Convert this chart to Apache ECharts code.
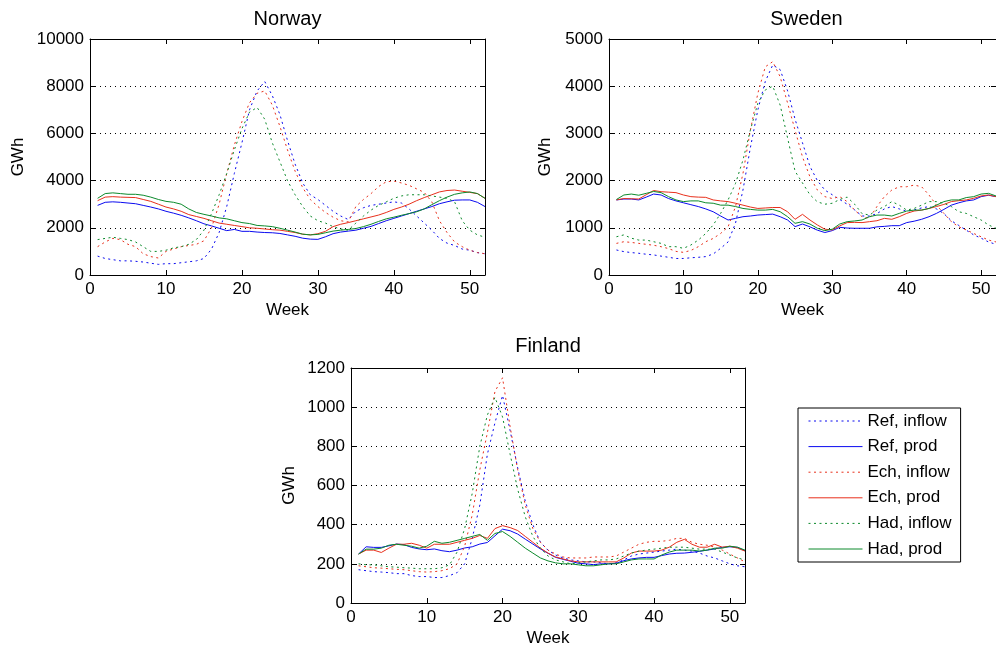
<!DOCTYPE html>
<html>
<head>
<meta charset="utf-8">
<title>Weekly inflow and production</title>
<script src="https://cdn.jsdelivr.net/npm/echarts@6/dist/echarts.min.js"></script>
<style>
  html, body { margin: 0; padding: 0; background: #fff; }
  #chart { width: 996px; height: 651px; }
</style>
</head>
<body>
<div id="chart"></div>
<script>
// Week numbers (x values shared by every curve)
const weeks = [1,2,3,4,5,6,7,8,9,10,11,12,13,14,15,16,17,18,19,20,21,22,23,24,25,26,
               27,28,29,30,31,32,33,34,35,36,37,38,39,40,41,42,43,44,45,46,47,48,49,50,51,52];

const seriesNames = ['Ref, inflow', 'Ref, prod', 'Ech, inflow', 'Ech, prod', 'Had, inflow', 'Had, prod'];
const countries = ['Norway', 'Sweden', 'Finland'];
const yMax = [10000, 5000, 1200];
const yStep = [2000, 1000, 200];

// Norway, GWh per week
const norwayRefInflow = [800,700,650,600,600,580,550,500,450,480, 480,520,560,600,700,1100,1800,2900,4300,5600,
  7000,7800,8200,7600,6800,5700,4700,3900,3400,3200, 2950,2700,2500,2350,2700,2850,2950,3000,3050,3100,
  3050,2800,2500,2200,1900,1550,1350,1250,1100,1050, 950,900];
const norwayRefProd = [2950,3080,3100,3080,3050,3020,2950,2880,2800,2700, 2620,2530,2420,2300,2170,2080,1980,1880,1930,1850,
  1850,1820,1800,1790,1760,1700,1640,1560,1520,1510, 1620,1750,1820,1860,1900,1980,2060,2180,2300,2400,
  2500,2600,2700,2800,2900,3020,3100,3170,3180,3180, 3080,2900];
const norwayEchInflow = [1200,1400,1550,1500,1300,1200,900,780,720,1000, 1100,1200,1250,1300,1450,2000,3000,4300,5500,6500,
  7300,7700,7800,7200,6300,5300,4400,3700,3200,2900, 2650,2450,2300,2250,2900,3200,3450,3750,3950,3980,
  3900,3800,3650,3500,3100,2300,1800,1400,1200,1050, 950,900];
const norwayEchProd = [3150,3300,3320,3300,3290,3280,3200,3120,3000,2880, 2800,2700,2560,2480,2400,2300,2200,2150,2100,2050,
  2000,1980,1950,1920,1900,1850,1800,1730,1700,1750, 1850,2050,2150,2220,2300,2380,2460,2540,2650,2780,
  2880,3000,3150,3280,3400,3520,3580,3600,3550,3500, 3450,3250];
const norwayHadInflow = [1500,1550,1600,1550,1500,1400,1200,1000,1000,1050, 1150,1200,1300,1500,1900,2600,3400,4300,5300,6200,
  6900,7100,6600,5600,4800,4000,3400,2900,2500,2300, 2200,2050,1950,1900,2200,2500,2750,2950,3100,3250,
  3350,3400,3400,3400,3350,3300,3250,3100,2300,1900, 1700,1600];
const norwayHadProd = [3250,3450,3480,3450,3420,3420,3380,3300,3200,3120, 3080,3000,2800,2650,2570,2500,2420,2380,2300,2220,
  2180,2100,2080,2050,1980,1900,1820,1730,1700,1720, 1790,1860,1900,1930,1970,2050,2150,2270,2380,2450,
  2530,2600,2680,2800,2980,3150,3300,3420,3480,3520, 3450,3250];

// Sweden, GWh per week
const swedenRefInflow = [530,495,475,460,440,425,400,375,350,350, 365,375,390,445,565,700,1100,1800,2700,3500,
  4100,4450,4350,3900,3300,2800,2300,2000,1800,1700, 1600,1500,1380,1250,1250,1300,1400,1450,1400,1350,
  1380,1420,1450,1400,1300,1150,1050,950,850,780, 700,650];
const swedenRefProd = [1590,1610,1610,1590,1650,1715,1695,1620,1570,1530, 1490,1450,1400,1340,1250,1165,1200,1235,1250,1270,
  1280,1290,1235,1165,1025,1080,1020,950,900,940, 1010,995,990,990,990,1020,1030,1045,1045,1110,
  1140,1180,1235,1305,1390,1480,1530,1570,1590,1660, 1690,1660];
const swedenEchInflow = [670,705,690,670,650,630,600,560,500,480, 520,600,705,775,880,1020,1450,2150,3070,3850,
  4410,4520,4200,3640,3070,2500,2080,1800,1660,1620, 1660,1555,1375,1235,1200,1450,1660,1800,1870,1870,
  1905,1870,1695,1480,1305,1130,1020,955,880,810, 740,700];
const swedenEchProd = [1590,1620,1615,1610,1700,1790,1765,1755,1745,1695, 1660,1650,1645,1590,1570,1555,1520,1480,1440,1410,
  1420,1430,1430,1340,1180,1285,1165,1060,970,955, 1040,1110,1115,1110,1130,1150,1200,1180,1235,1305,
  1355,1375,1410,1450,1495,1555,1575,1590,1625,1675, 1695,1660];
const swedenHadInflow = [810,850,780,740,740,705,670,600,600,565, 635,740,880,1060,1305,1590,1940,2435,3070,3640,
  3920,4000,3600,2900,2200,1950,1700,1550,1500,1520, 1600,1650,1500,1300,1270,1375,1450,1555,1480,1375,
  1410,1480,1555,1555,1520,1450,1340,1305,1235,1165, 1060,990];
const swedenHadProd = [1600,1695,1715,1690,1730,1770,1745,1660,1590,1555, 1570,1570,1530,1520,1480,1480,1450,1410,1390,1375,
  1375,1390,1340,1235,1095,1130,1080,990,940,970, 1080,1130,1145,1165,1235,1270,1270,1250,1305,1355,
  1375,1375,1410,1480,1555,1590,1590,1640,1660,1715, 1730,1675];

// Finland, GWh per week
const finlandRefInflow = [170,165,160,158,155,150,150,140,135,135, 130,130,140,155,200,330,500,760,920,1060,
  880,690,520,400,310,270,245,230,220,215, 210,210,205,200,205,220,240,250,255,260,
  265,270,275,270,265,255,240,230,215,200, 190,185];
const finlandRefProd = [250,287,284,284,292,301,298,284,276,272, 276,267,262,270,281,287,301,309,343,377,
  369,352,326,301,276,254,233,223,213,203, 200,196,200,200,203,216,225,230,233,233,
  242,250,254,255,259,264,270,276,284,287, 284,267];
const finlandEchInflow = [190,185,180,178,175,172,170,165,160,158, 160,165,175,200,290,450,680,870,1080,1150,
  900,680,500,380,310,270,250,235,230,230, 230,235,235,235,240,260,280,300,310,315,
  315,320,330,330,310,300,295,285,270,250, 230,210];
const finlandEchProd = [250,270,270,258,280,300,300,305,295,280, 300,300,300,310,320,330,345,330,380,395,
  385,370,340,310,280,255,235,225,215,210, 210,210,210,210,210,230,255,265,265,265,
  270,285,310,325,300,285,285,300,285,290, 280,265];
const finlandHadInflow = [200,195,195,190,185,183,180,178,175,175, 175,180,195,260,380,560,800,960,1050,950,
  760,580,440,340,280,240,220,210,200,205, 210,215,220,220,225,240,255,265,270,275,
  280,285,285,285,280,275,275,275,260,245, 230,220];
const finlandHadProd = [250,275,275,280,295,300,295,290,280,290, 315,305,310,320,330,340,350,320,355,365,
  340,310,280,255,230,215,205,200,200,195, 190,190,195,200,200,210,220,225,225,225,
  245,260,270,270,270,265,270,280,280,290, 285,270];

const panelData = [
  [norwayRefInflow, norwayRefProd, norwayEchInflow, norwayEchProd, norwayHadInflow, norwayHadProd],
  [swedenRefInflow, swedenRefProd, swedenEchInflow, swedenEchProd, swedenHadInflow, swedenHadProd],
  [finlandRefInflow, finlandRefProd, finlandEchInflow, finlandEchProd, finlandHadInflow, finlandHadProd]
];

// Styling
const FONT = 'Liberation Sans, Arial, Helvetica, sans-serif';
const lineColors = ['#0a0af0', '#0a0af0', '#e8301c', '#e8301c', '#0c8a2c', '#0c8a2c'];
const dotted = [2, 3.5];
const grids = [
  { left: 90, top: 39, width: 395, height: 236 },
  { left: 609, top: 39, width: 395, height: 236 },
  { left: 351, top: 368, width: 394, height: 235 }
];
const yNameGap = [63, 55, 53];
const titlePos = [[287.5, 9], [806.5, 9], [548, 336]];

const frame = { show: true, onZero: false, lineStyle: { color: '#000', width: 1 } };
const innerTick = { show: true, inside: true, length: 5, lineStyle: { color: '#000', width: 1 } };
const tickText = { color: '#000', fontSize: 17, fontFamily: FONT };
const plainNumber = v => String(v);

const xAxis = [], yAxis = [], series = [], title = [];
countries.forEach((name, i) => {
  title.push({
    text: name, left: titlePos[i][0], top: titlePos[i][1], textAlign: 'center', padding: 0,
    textStyle: { color: '#000', fontSize: 20, fontWeight: 'normal', fontFamily: FONT }
  });
  const xBase = { type: 'value', gridIndex: i, min: 0, max: 52, interval: 10,
                  axisLine: frame, axisTick: innerTick, splitLine: { show: false } };
  xAxis.push(Object.assign({}, xBase, {
    position: 'bottom', name: 'Week', nameLocation: 'middle', nameGap: 27,
    nameTextStyle: tickText,
    axisLabel: Object.assign({ margin: 6, showMaxLabel: false, formatter: plainNumber }, tickText)
  }));
  xAxis.push(Object.assign({}, xBase, { position: 'top', axisLabel: { show: false } }));

  const yBase = { type: 'value', gridIndex: i, min: 0, max: yMax[i], interval: yStep[i],
                  axisLine: frame, axisTick: innerTick };
  yAxis.push(Object.assign({}, yBase, {
    position: 'left', name: 'GWh', nameLocation: 'middle', nameGap: yNameGap[i],
    nameTextStyle: tickText,
    axisLabel: Object.assign({ margin: 6, formatter: plainNumber }, tickText),
    splitLine: { show: true, lineStyle: { color: '#000', width: 1, type: [1, 4] } }
  }));
  yAxis.push(Object.assign({}, yBase, { position: 'right', axisLabel: { show: false }, splitLine: { show: false } }));

  panelData[i].forEach((values, k) => {
    series.push({
      name: seriesNames[k], type: 'line', xAxisIndex: 2 * i, yAxisIndex: 2 * i,
      symbol: 'none', smooth: false, z: 3,
      lineStyle: { color: lineColors[k], width: 1, type: k % 2 === 0 ? dotted : 'solid' },
      itemStyle: { color: lineColors[k] },
      data: weeks.map((w, j) => [w, values[j]])
    });
  });
});

const chart = echarts.init(document.getElementById('chart'), null, { renderer: 'canvas' });
chart.setOption({
  backgroundColor: '#fff',
  animation: false,
  title: title,
  grid: grids,
  xAxis: xAxis,
  yAxis: yAxis,
  legend: {
    orient: 'vertical', left: 798, top: 408,
    data: seriesNames, selectedMode: false,
    itemWidth: 54, itemHeight: 14, itemGap: 5.6,
    padding: [3, 9, 3, 10],
    borderColor: '#000', borderWidth: 1, backgroundColor: '#fff',
    itemStyle: { opacity: 0 },
    lineStyle: { width: 1 },
    textStyle: { color: '#000', fontSize: 17, lineHeight: 20, fontFamily: FONT }
  },
  series: series
});
</script>
</body>
</html>
